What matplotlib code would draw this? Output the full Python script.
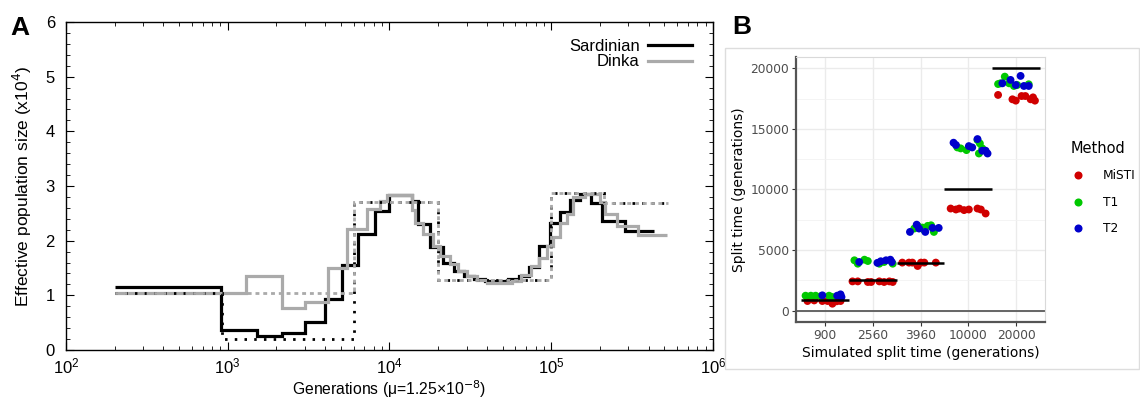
import matplotlib
matplotlib.use("Agg")
import matplotlib.pyplot as plt
import numpy as np
from matplotlib.lines import Line2D
from matplotlib.patches import Rectangle
from matplotlib.ticker import LogLocator, MultipleLocator, NullFormatter

# ---------------- Panel A data ----------------
sard_t = [200, 910, 1520, 2150, 3000, 3970, 5050, 6400, 8100, 9900, 13800, 14900, 17900,
          21300, 25200, 29000, 33400, 39000, 46000, 54000, 63000, 73000, 84500, 98000,
          113000, 130000, 150000, 175000, 205000, 285000, 433000]
sard_N = [1.16, 0.36, 0.26, 0.31, 0.51, 0.93, 1.55, 2.12, 2.54, 2.84, 2.72, 2.31, 1.88,
          1.60, 1.45, 1.36, 1.30, 1.27, 1.26, 1.30, 1.36, 1.52, 1.90, 2.33, 2.52, 2.75,
          2.86, 2.68, 2.36, 2.17]
dinka_t = [200, 1290, 2170, 3000, 4190, 5430, 7230, 8730, 9600, 13700, 14400, 16200, 18700,
           20500, 23700, 26600, 30000, 34600, 39900, 56900, 65300, 74600, 83800, 94000,
           103000, 113300, 124600, 136900, 161700, 200100, 214900, 253900, 345400, 517000]
dinka_N = [1.04, 1.35, 0.77, 0.88, 1.50, 2.21, 2.58, 2.72, 2.83, 2.56, 2.33, 2.12, 1.90,
           1.72, 1.57, 1.45, 1.36, 1.28, 1.22, 1.26, 1.38, 1.53, 1.69, 1.90, 2.06, 2.33,
           2.49, 2.79, 2.85, 2.70, 2.49, 2.27, 2.11]
sim_sard_t = [200, 920, 6000, 19900, 100000, 212000, 530000]
sim_sard_N = [1.05, 0.21, 2.70, 1.28, 2.88, 2.68]
sim_dinka_t = [200, 6000, 19900, 100000, 212000, 530000]
sim_dinka_N = [1.05, 2.70, 1.28, 2.88, 2.68]

# ---------------- Panel B data ----------------
categories = ["900", "2560", "3960", "10000", "20000"]
true_split = [900, 2560, 3960, 10000, 20000]
methods = ["MiSTI", "T1", "T2"]
method_colors = ["#D00000", "#00C800", "#0000CC"]

misti_vals = [
    [800, 800, 800, 580, 800, 800, 850, 780],
    [2420, 2420, 2370, 2370, 2420, 2370, 2420, 2370],
    [3970, 3970, 3970, 3690, 3970, 3970, 3970],
    [8430, 8350, 8430, 8300, 8350, 8430, 8350, 8020],
    [17800, 17440, 17330, 17710, 17710, 17440, 17330, 17600],
]
misti_jit = [
    [-0.36, -0.05, 0.06, 0.16, 0.19, 0.33, -0.22, 0.25],
    [-0.42, -0.31, -0.10, -0.03, 0.14, 0.24, 0.35, 0.42],
    [-0.38, -0.24, -0.17, -0.06, 0.01, 0.08, 0.32],
    [-0.37, -0.26, -0.19, -0.09, 0.01, 0.19, 0.26, 0.36],
    [-0.38, -0.08, -0.01, 0.11, 0.19, 0.30, 0.39, 0.35],
]
t1_vals = [
    [1240, 1240, 1240, 1240, 1130, 1200],
    [4160, 3880, 4210, 4100, 3880, 4020, 3880],
    [6780, 7000, 6860, 7000, 7050, 6500, 6640],
    [13470, 13390, 13250, 14080, 13800, 12970, 13390],
    [18700, 18760, 19310, 18760, 18540, 18620, 18680],
]
t1_jit = [
    [-0.40, -0.29, -0.19, 0.09, 0.16, -0.08],
    [-0.38, -0.31, -0.17, -0.10, 0.14, 0.24, 0.42],
    [-0.13, -0.06, 0.04, 0.15, 0.22, 0.28, 0.08],
    [-0.23, -0.16, -0.04, 0.19, 0.24, 0.22, 0.29],
    [-0.38, -0.33, -0.24, -0.15, -0.05, 0.02, 0.26],
]
t2_vals = [
    [1270, 1240, 1350, 1130],
    [4020, 3950, 4080, 4160, 4210, 4020],
    [6500, 7100, 6780, 6500, 6830, 6830],
    [13860, 13670, 13580, 13470, 14160, 13200, 12970, 13200],
    [18760, 19040, 18620, 19370, 18540, 18540],
]
t2_jit = [
    [-0.05, 0.26, 0.33, 0.35],
    [-0.28, 0.10, 0.17, 0.28, 0.37, 0.40],
    [-0.22, -0.08, -0.03, 0.10, 0.25, 0.38],
    [-0.31, -0.26, 0.01, 0.08, 0.19, 0.29, 0.40, 0.36],
    [-0.29, -0.12, -0.01, 0.09, 0.16, 0.26],
]

# ---------------- Figure ----------------
fig = plt.figure(figsize=(11.40, 4.01), dpi=100)

# Panel A
axA = fig.add_axes([66/1140, 1-350/401, 647/1140, 328/401])
fA = ["Liberation Sans", "DejaVu Sans"]
black = "#000000"
grey = "#aaaaaa"
axA.stairs(sard_N, sard_t, baseline=None, color=black, lw=2.3, zorder=3)
axA.stairs(dinka_N, dinka_t, baseline=None, color=grey, lw=2.3, zorder=4)
axA.stairs(sim_sard_N, sim_sard_t, baseline=None, color=black, lw=2.0,
           linestyle=(0, (0.9, 2.6)), zorder=5)
axA.stairs(sim_dinka_N, sim_dinka_t, baseline=None, color=grey, lw=2.0,
           linestyle=(0, (1.4, 1.4)), zorder=6)
axA.set_xscale("log")
axA.set_xlim(1e2, 1e6)
axA.set_ylim(0, 6)
axA.yaxis.set_major_locator(MultipleLocator(1))
axA.yaxis.set_minor_locator(MultipleLocator(0.2))
axA.xaxis.set_major_locator(LogLocator(base=10, numticks=10))
axA.xaxis.set_minor_locator(LogLocator(base=10, subs=np.arange(2, 10), numticks=20))
axA.xaxis.set_minor_formatter(NullFormatter())
axA.tick_params(which="both", direction="in", top=True, right=True, labelsize=12)
axA.tick_params(which="major", length=6, width=0.8)
axA.tick_params(which="minor", length=3, width=0.6)
axA.tick_params(axis="x", pad=5)
axA.tick_params(axis="y", pad=8)
for lab in axA.get_xticklabels() + axA.get_yticklabels():
    lab.set_family(fA)
for s in axA.spines.values():
    s.set_linewidth(1.0)
axA.set_xlabel("Generations (\u03bc=1.25\u00d710$^{-8}$)", fontsize=11.3, family=fA, labelpad=1)
axA.set_ylabel("Effective population size (x10$^{4}$)", fontsize=12.5, family=fA, labelpad=8)
handles = [Line2D([], [], color=black, lw=2.3), Line2D([], [], color=grey, lw=2.3)]
legA = axA.legend(handles, ["Sardinian", "Dinka"], loc="upper right",
                  bbox_to_anchor=(0.99, 0.995), frameon=False, markerfirst=False,
                  prop={"family": fA, "size": 12}, handlelength=2.6,
                  labelspacing=0.05, handletextpad=0.5)
fig.text(10/1140, 1-28/401, "A", fontsize=19, fontweight="bold", family=fA, va="center")

# Panel B
fig.patches.append(Rectangle((725/1140, 1-369/401), (1139-725)/1140, (369-48)/401,
                             transform=fig.transFigure, fill=False,
                             edgecolor="#dddddd", lw=1.0))
fig.text(732/1140, 1-27/401, "B", fontsize=19, fontweight="bold", family=fA, va="center")
fB = ["DejaVu Sans"]
axB = fig.add_axes([796/1140, 1-322/401, 249/1140, 265/401])
xs = np.arange(1, len(categories)+1)
axB.set_xlim(0.4, 5.6)
axB.set_ylim(-930, 20930)
axB.set_xticks(xs)
axB.set_xticklabels(categories)
axB.yaxis.set_major_locator(MultipleLocator(5000))
axB.yaxis.set_minor_locator(MultipleLocator(2500))
axB.grid(True, which="major", color="#ebebeb", lw=1.0, zorder=0)
axB.grid(True, which="minor", axis="y", color="#f2f2f2", lw=0.6, zorder=0)
axB.set_axisbelow(True)
axB.axhline(0, color="#5a5a5a", lw=1.3, zorder=1)
for vals, jits, col in zip([misti_vals, t1_vals, t2_vals], [misti_jit, t1_jit, t2_jit], method_colors):
    for i in range(len(categories)):
        axB.scatter(xs[i] + np.array(jits[i]), vals[i], s=32, color=col,
                    edgecolors="none", zorder=3)
axB.hlines(true_split, xs-0.5, xs+0.5, color="black", lw=1.8, zorder=4)
for side in ["top", "right"]:
    axB.spines[side].set_color("#d9d9d9")
    axB.spines[side].set_linewidth(0.8)
for side in ["left", "bottom"]:
    axB.spines[side].set_color("#555555")
    axB.spines[side].set_linewidth(1.6)
axB.tick_params(which="major", direction="out", length=3, color="#333333",
                labelsize=8.8, labelcolor="#4d4d4d", pad=2)
axB.tick_params(which="minor", length=0)
for lab in axB.get_xticklabels() + axB.get_yticklabels():
    lab.set_family(fB)
axB.set_xlabel("Simulated split time (generations)", fontsize=10.0, family=fB, labelpad=3)
axB.set_ylabel("Split time (generations)", fontsize=10.0, family=fB, labelpad=3)

mh = [Line2D([], [], marker="o", linestyle="none", markersize=5.8, color=c,
             markeredgewidth=0) for c in method_colors]
legB = fig.legend(mh, methods, loc="upper left", bbox_to_anchor=(1060/1140, 1-130/401),
                  frameon=False, title="Method", prop={"family": fB, "size": 8.8},
                  title_fontproperties={"family": fB, "size": 10.5},
                  handletextpad=1.4, labelspacing=1.1, handlelength=1.2)
legB._legend_box.align = "left"

fig.savefig("out.png", dpi=100)
